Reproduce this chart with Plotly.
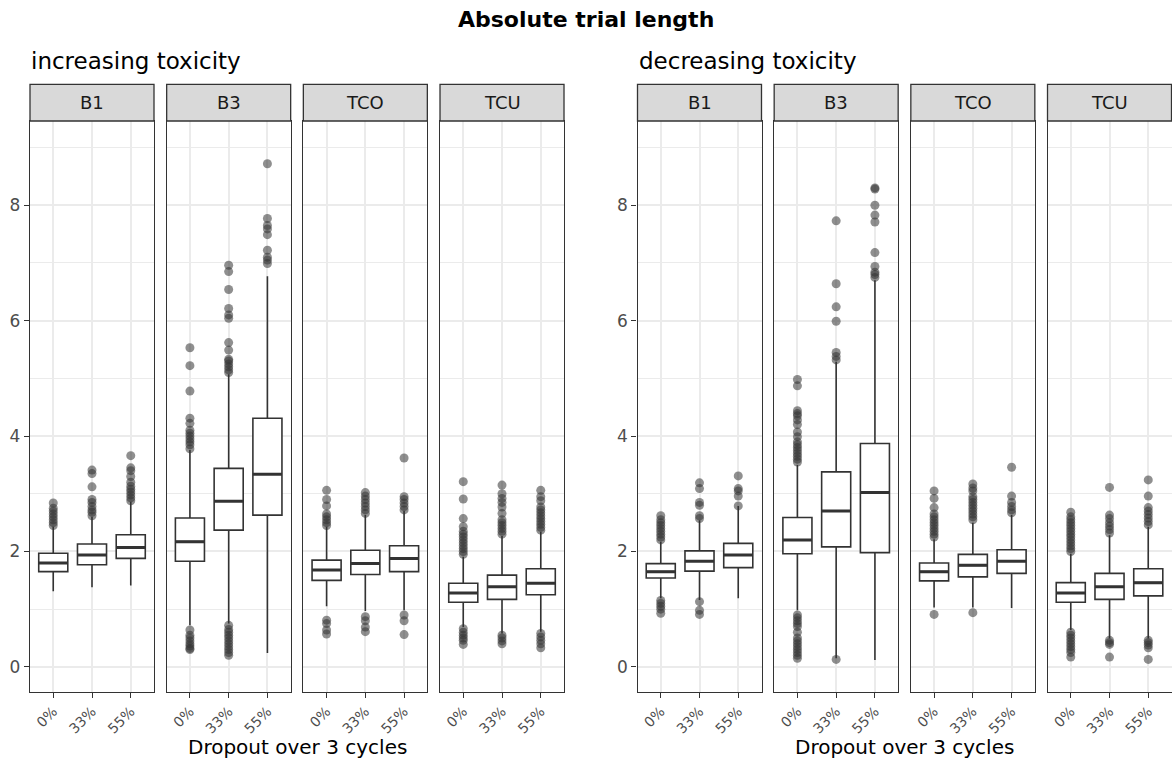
import plotly.graph_objects as go

# ---------------- data ----------------
designs = ["B1", "B3", "TCO", "TCU"]
dropouts = ["0%", "33%", "55%"]
groups = ["increasing toxicity", "decreasing toxicity"]
y_ticks = [0, 2, 4, 6, 8]
y_minor = [1, 3, 5, 7, 9]

# order: B1(0,33,55), B3(...), TCO(...), TCU(...)
inc_lower = [1.31, 1.38, 1.41, 0.72, 0.75, 0.24, 1.05, 0.97, 0.98, 0.69, 0.58, 0.61]
inc_q1 = [1.65, 1.77, 1.88, 1.83, 2.37, 2.63, 1.50, 1.60, 1.65, 1.12, 1.17, 1.25]
inc_median = [1.80, 1.94, 2.07, 2.17, 2.87, 3.34, 1.68, 1.79, 1.88, 1.28, 1.39, 1.45]
inc_q3 = [1.97, 2.13, 2.29, 2.58, 3.44, 4.31, 1.85, 2.02, 2.10, 1.45, 1.59, 1.70]
inc_upper = [2.43, 2.60, 2.86, 3.76, 5.07, 6.77, 2.43, 2.63, 2.70, 1.91, 2.27, 2.34]
inc_outliers = [
    [2.45, 2.5, 2.55, 2.6, 2.65, 2.7, 2.75, 2.84],
    [2.62, 2.68, 2.72, 2.78, 2.85, 2.9, 3.12, 3.35, 3.41],
    [2.88, 2.93, 2.98, 3.03, 3.08, 3.13, 3.2, 3.3, 3.4, 3.45, 3.66],
    [3.78, 3.85, 3.9, 3.95, 4.0, 4.05, 4.1, 4.22, 4.31, 4.78, 5.22, 5.53,
     0.64, 0.55, 0.5, 0.45, 0.4, 0.36, 0.32, 0.3],
    [5.1, 5.15, 5.2, 5.25, 5.3, 5.33, 5.49, 5.62, 6.04, 6.1, 6.21, 6.54, 6.85, 6.96,
     0.72, 0.65, 0.6, 0.55, 0.5, 0.45, 0.4, 0.35, 0.3, 0.25, 0.2],
    [6.99, 7.05, 7.1, 7.22, 7.49, 7.59, 7.65, 7.77, 8.72],
    [2.45, 2.5, 2.55, 2.6, 2.65, 2.79, 2.9, 3.06, 0.81, 0.75, 0.64, 0.57],
    [2.66, 2.72, 2.78, 2.84, 2.9, 2.96, 3.02, 0.87, 0.8, 0.69, 0.61],
    [2.72, 2.78, 2.84, 2.9, 2.95, 3.62, 0.9, 0.8, 0.56],
    [1.95, 2.0, 2.05, 2.1, 2.15, 2.2, 2.25, 2.3, 2.35, 2.43, 2.57, 2.91, 3.21,
     0.66, 0.6, 0.55, 0.5, 0.46, 0.39],
    [2.3, 2.35, 2.4, 2.45, 2.5, 2.55, 2.66, 2.77, 2.85, 2.92, 3.0, 3.15,
     0.55, 0.5, 0.45, 0.4],
    [2.37, 2.42, 2.47, 2.52, 2.57, 2.62, 2.67, 2.72, 2.77, 2.88, 2.95, 3.06,
     0.58, 0.52, 0.46, 0.4, 0.33],
]

dec_lower = [1.19, 1.16, 1.19, 0.98, 0.15, 0.12, 1.03, 1.03, 1.02, 0.64, 0.49, 0.49]
dec_q1 = [1.54, 1.66, 1.72, 1.96, 2.08, 1.98, 1.49, 1.56, 1.62, 1.12, 1.17, 1.23]
dec_median = [1.65, 1.83, 1.94, 2.20, 2.70, 3.02, 1.65, 1.76, 1.83, 1.28, 1.39, 1.46]
dec_q3 = [1.79, 2.01, 2.14, 2.59, 3.38, 3.87, 1.80, 1.95, 2.03, 1.46, 1.62, 1.70]
dec_upper = [2.17, 2.54, 2.79, 3.50, 5.29, 6.70, 2.21, 2.50, 2.63, 1.96, 2.28, 2.43]
dec_outliers = [
    [2.2, 2.25, 2.3, 2.35, 2.4, 2.45, 2.5, 2.55, 2.62, 1.15, 1.1, 1.05, 1.0, 0.93],
    [2.57, 2.62, 2.8, 2.85, 3.09, 3.19, 1.13, 0.98, 0.91],
    [2.79, 2.96, 3.05, 3.09, 3.31],
    [3.55, 3.6, 3.65, 3.7, 3.75, 3.8, 3.85, 3.9, 3.99, 4.07, 4.2, 4.28, 4.35, 4.39,
     4.44, 4.87, 4.98, 0.9, 0.85, 0.8, 0.75, 0.7, 0.6, 0.5, 0.45, 0.4, 0.35, 0.3,
     0.25, 0.2, 0.15],
    [5.32, 5.38, 5.45, 5.99, 6.24, 6.64, 7.73, 0.13],
    [6.75, 6.8, 6.84, 6.94, 7.18, 7.71, 7.83, 8.0, 8.28, 8.3],
    [2.25, 2.3, 2.35, 2.4, 2.45, 2.5, 2.55, 2.6, 2.65, 2.76, 2.92, 3.05, 0.91],
    [2.55, 2.6, 2.65, 2.7, 2.75, 2.8, 2.85, 2.9, 2.95, 3.05, 3.1, 3.17, 0.94],
    [2.67, 2.72, 2.78, 2.85, 2.96, 3.46],
    [2.0, 2.05, 2.1, 2.15, 2.2, 2.25, 2.3, 2.35, 2.4, 2.45, 2.5, 2.55, 2.6, 2.68,
     0.6, 0.55, 0.5, 0.45, 0.4, 0.35, 0.3, 0.25, 0.17],
    [2.32, 2.38, 2.44, 2.5, 2.57, 2.63, 3.11, 0.46, 0.42, 0.39, 0.17],
    [2.46, 2.52, 2.58, 2.64, 2.7, 2.76, 2.96, 3.24, 0.46, 0.42, 0.38, 0.33, 0.13],
]

title_text = "Absolute trial length"
x_title = "Dropout over 3 cycles"

# ---------------- layout constants ----------------
W, H = 1172, 768
FONT = "DejaVu Sans"
DARK = "#333333"
GRID = "#EBEBEB"
panel_w = 124.0
gap = 12.67
group_left = [30.0, 637.5]
y_bot, y_top, strip_top = 691.7, 121.0, 84.3
y_range = [-0.43, 9.46]
box_w = 0.75

group_stats = [
    (inc_lower, inc_q1, inc_median, inc_q3, inc_upper, inc_outliers),
    (dec_lower, dec_q1, dec_median, dec_q3, dec_upper, dec_outliers),
]

fig = go.Figure()
shapes, annotations = [], []
positions = list(range(1, len(dropouts) + 1))

for g, (lo, q1, md, q3, up, outl) in enumerate(group_stats):
    for d, design in enumerate(designs):
        k = g * len(designs) + d
        suf = "" if k == 0 else str(k + 1)
        xr, yr = "x" + suf, "y" + suf
        sl = slice(d * 3, d * 3 + 3)
        x0 = group_left[g] + d * (panel_w + gap)

        # outliers (drawn first, under the boxes)
        ox, oy = [], []
        for i, vals in zip(positions, outl[sl]):
            ox += [i] * len(vals)
            oy += vals
        fig.add_trace(go.Scatter(
            x=ox, y=oy, mode="markers", xaxis=xr, yaxis=yr, showlegend=False,
            hoverinfo="skip",
            marker=dict(size=9, color=DARK, opacity=0.55, line=dict(width=0))))

        fig.add_trace(go.Box(
            x=positions, q1=q1[sl], median=md[sl], q3=q3[sl],
            lowerfence=lo[sl], upperfence=up[sl], width=box_w, whiskerwidth=0,
            fillcolor="white", line=dict(color=DARK, width=1.6),
            boxpoints=False, xaxis=xr, yaxis=yr, showlegend=False,
            hoverinfo="skip"))

        # thicker median bar
        mx, my = [], []
        for i, m in zip(positions, md[sl]):
            mx += [i - box_w / 2, i + box_w / 2, None]
            my += [m, m, None]
        fig.add_trace(go.Scatter(
            x=mx, y=my, mode="lines", xaxis=xr, yaxis=yr, showlegend=False,
            hoverinfo="skip", line=dict(color=DARK, width=3)))

        dom_x = [x0 / W, (x0 + panel_w) / W]
        dom_y = [(H - y_bot) / H, (H - y_top) / H]
        fig.update_layout(**{
            "xaxis" + suf: dict(
                domain=dom_x, anchor=yr, range=[0.4, 3.6],
                tickmode="array", tickvals=positions, ticktext=dropouts,
                tickangle=-45, ticks="outside", ticklen=5, tickwidth=1.2,
                tickcolor=DARK,
                tickfont=dict(family=FONT, size=14, color="#4D4D4D"),
                showgrid=True, gridcolor=GRID, gridwidth=1.5,
                showline=True, linecolor=DARK, linewidth=1.3, mirror=True,
                zeroline=False, fixedrange=True),
            "yaxis" + suf: dict(
                domain=dom_y, anchor=xr, range=y_range,
                tickmode="array", tickvals=y_ticks,
                showticklabels=(d == 0), ticks="outside" if d == 0 else "",
                ticklen=5, tickwidth=1.2, tickcolor=DARK,
                tickfont=dict(family=FONT, size=17, color="#4D4D4D"),
                showgrid=True, gridcolor=GRID, gridwidth=1.5,
                minor=dict(tickvals=y_minor, showgrid=True, gridcolor=GRID,
                           gridwidth=0.8, ticks=""),
                showline=True, linecolor=DARK, linewidth=1.3, mirror=True,
                zeroline=False, fixedrange=True),
        })

        # strip
        shapes.append(dict(
            type="rect", xref="paper", yref="paper",
            x0=dom_x[0], x1=dom_x[1], y0=(H - y_top) / H, y1=(H - strip_top) / H,
            fillcolor="#D9D9D9", line=dict(color=DARK, width=1.3), layer="above"))
        annotations.append(dict(
            text=design, xref="paper", yref="paper",
            x=(dom_x[0] + dom_x[1]) / 2, y=(H - (y_top + strip_top) / 2) / H,
            xanchor="center", yanchor="middle", showarrow=False,
            font=dict(family=FONT, size=18, color="#1A1A1A")))

    # group subtitle
    annotations.append(dict(
        text=groups[g], xref="paper", yref="paper",
        x=(group_left[g] - 1) / W, y=(H - 61) / H, xanchor="left", yanchor="middle",
        showarrow=False, font=dict(family=FONT, size=23, color="black")))
    # x-axis title
    gx0 = group_left[g]
    gx1 = group_left[g] + 4 * panel_w + 3 * gap
    annotations.append(dict(
        text=x_title, xref="paper", yref="paper",
        x=(gx0 + gx1) / 2 / W, y=(H - 747) / H, xanchor="center", yanchor="middle",
        showarrow=False, font=dict(family=FONT, size=20, color="black")))

annotations.append(dict(
    text="<b>" + title_text + "</b>", xref="paper", yref="paper",
    x=0.5, y=(H - 20) / H, xanchor="center", yanchor="middle",
    showarrow=False, font=dict(family=FONT, size=22, color="black")))

fig.update_layout(
    width=W, height=H, autosize=False,
    margin=dict(l=0, r=0, t=0, b=0),
    paper_bgcolor="white", plot_bgcolor="white",
    shapes=shapes, annotations=annotations, showlegend=False,
    font=dict(family=FONT),
)

fig.write_html("out.html", config={"displayModeBar": False},
               post_script="document.body.style.margin='0';")
